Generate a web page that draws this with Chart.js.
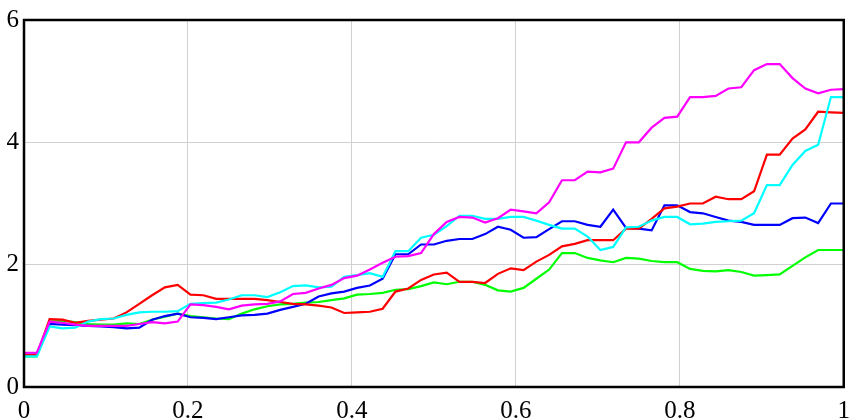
<!DOCTYPE html>
<html>
<head>
<meta charset="utf-8">
<script src="https://cdn.jsdelivr.net/npm/chart.js@4.4.1/dist/chart.umd.min.js"></script>
<style>
  html, body { margin: 0; padding: 0; background: #fff; }
  #wrap { width: 859px; height: 419px; }
  #probe { font-family: 'Liberation Serif'; position: absolute; left: -999px; }
</style>
</head>
<body>
<span id="probe">0.2</span>
<div id="wrap"><canvas id="walkChart" width="859" height="419"></canvas></div>
<script>
// 64 equal steps from 0 to 1
const steps = 64;

const redVals = [0.52, 0.52, 1.11, 1.10, 1.05, 1.08, 1.10, 1.12, 1.22, 1.36, 1.50, 1.63, 1.67, 1.51, 1.50, 1.44,
  1.44, 1.44, 1.44, 1.42, 1.39, 1.36, 1.35, 1.33, 1.30, 1.21, 1.22, 1.23, 1.28, 1.56, 1.61, 1.75,
  1.84, 1.87, 1.72, 1.72, 1.70, 1.85, 1.94, 1.91, 2.05, 2.16, 2.30, 2.34, 2.40, 2.40, 2.40, 2.59,
  2.59, 2.75, 2.92, 2.95, 3.00, 3.00, 3.11, 3.07, 3.07, 3.20, 3.80, 3.80, 4.06, 4.21, 4.50, 4.49, 4.48];

const greenVals = [0.50, 0.50, 1.07, 1.08, 1.06, 1.03, 1.02, 1.02, 1.04, 1.03, 1.10, 1.15, 1.20, 1.16, 1.14, 1.12,
  1.11, 1.20, 1.27, 1.32, 1.35, 1.36, 1.38, 1.39, 1.42, 1.45, 1.51, 1.52, 1.54, 1.59, 1.60, 1.65,
  1.71, 1.68, 1.72, 1.72, 1.67, 1.58, 1.56, 1.62, 1.77, 1.92, 2.19, 2.19, 2.11, 2.07, 2.04, 2.11,
  2.10, 2.06, 2.04, 2.04, 1.93, 1.90, 1.89, 1.91, 1.88, 1.82, 1.83, 1.84, 1.98, 2.12, 2.24, 2.24, 2.24];

const blueVals = [0.53, 0.53, 1.03, 1.02, 1.01, 1.00, 0.99, 0.98, 0.96, 0.97, 1.10, 1.16, 1.20, 1.14, 1.13, 1.11,
  1.14, 1.17, 1.18, 1.20, 1.26, 1.31, 1.36, 1.48, 1.53, 1.56, 1.62, 1.66, 1.77, 2.17, 2.17, 2.33,
  2.33, 2.39, 2.42, 2.42, 2.50, 2.62, 2.57, 2.44, 2.45, 2.58, 2.71, 2.71, 2.65, 2.62, 2.90, 2.60,
  2.59, 2.56, 2.97, 2.97, 2.86, 2.84, 2.78, 2.72, 2.70, 2.65, 2.65, 2.65, 2.76, 2.77, 2.68, 3.00, 3.00];

const cyanVals = [0.50, 0.50, 0.99, 0.96, 0.97, 1.07, 1.11, 1.12, 1.18, 1.22, 1.23, 1.23, 1.24, 1.36, 1.37, 1.38,
  1.43, 1.50, 1.50, 1.47, 1.55, 1.65, 1.66, 1.63, 1.64, 1.80, 1.83, 1.86, 1.80, 2.22, 2.22, 2.44,
  2.49, 2.63, 2.80, 2.80, 2.75, 2.75, 2.78, 2.78, 2.72, 2.65, 2.59, 2.59, 2.46, 2.24, 2.29, 2.61,
  2.62, 2.72, 2.78, 2.78, 2.66, 2.67, 2.70, 2.71, 2.72, 2.84, 3.30, 3.30, 3.63, 3.86, 3.96, 4.74, 4.74];

const magentaVals = [0.56, 0.56, 1.07, 1.05, 1.02, 1.00, 1.00, 1.00, 1.00, 1.03, 1.06, 1.04, 1.07, 1.35, 1.34, 1.31,
  1.27, 1.33, 1.35, 1.36, 1.40, 1.52, 1.54, 1.61, 1.67, 1.78, 1.82, 1.92, 2.03, 2.13, 2.14, 2.19,
  2.50, 2.70, 2.78, 2.77, 2.69, 2.76, 2.90, 2.87, 2.84, 3.02, 3.38, 3.38, 3.52, 3.51, 3.57, 4.00,
  4.00, 4.24, 4.40, 4.42, 4.74, 4.74, 4.76, 4.88, 4.90, 5.18, 5.28, 5.28, 5.05, 4.88, 4.80, 4.86, 4.87];

const xTicks = [0, 0.2, 0.4, 0.6, 0.8, 1];
const yTicks = [0, 2, 4, 6];

function toPoints(vals) {
  return vals.map((v, i) => ({ x: i / steps, y: v }));
}

// black frame round the plot area
const framePlugin = {
  id: 'frame',
  afterDraw(chart) {
    const a = chart.chartArea;
    const ctx = chart.ctx;
    ctx.save();
    ctx.strokeStyle = '#000';
    ctx.lineWidth = 2.5;
    ctx.strokeRect(a.left, a.top, a.right - a.left, a.bottom - a.top);
    ctx.restore();
  }
};

const tickFont = { family: "'Liberation Serif', 'Times New Roman', Times, serif", size: 25 };

function drawChart() {
  new Chart(document.getElementById('walkChart'), {
    type: 'line',
    data: {
      datasets: [
        { label: 'magenta', data: toPoints(magentaVals), borderColor: '#ff00ff' },
        { label: 'cyan', data: toPoints(cyanVals), borderColor: '#00ffff' },
        { label: 'red', data: toPoints(redVals), borderColor: '#ff0000' },
        { label: 'blue', data: toPoints(blueVals), borderColor: '#0000ff' },
        { label: 'green', data: toPoints(greenVals), borderColor: '#00ff00' }
      ].map(d => Object.assign(d, { borderWidth: 2.2, pointRadius: 0, tension: 0, fill: false }))
    },
    options: {
      responsive: false,
      animation: false,
      layout: { padding: { top: 12, right: 8, left: 0, bottom: 0 } },
      plugins: { legend: { display: false }, tooltip: { enabled: false } },
      scales: {
        x: {
          type: 'linear',
          min: 0,
          max: 1,
          afterFit: s => { s.height = 32; },
          afterBuildTicks: s => { s.ticks = xTicks.map(v => ({ value: v })); },
          grid: { color: '#d0d0d0', lineWidth: 1, drawTicks: false },
          border: { display: false },
          ticks: { font: tickFont, color: '#000', padding: 9, maxRotation: 0, autoSkip: false,
            callback: v => String(v) }
        },
        y: {
          min: 0,
          max: 6,
          afterFit: s => { s.width = 24; },
          afterBuildTicks: s => { s.ticks = yTicks.map(v => ({ value: v })); },
          grid: { color: '#d0d0d0', lineWidth: 1, drawTicks: false },
          border: { display: false },
          ticks: { font: tickFont, color: '#000', padding: 5, callback: v => String(v) }
        }
      }
    },
    plugins: [framePlugin]
  });
}

if (document.fonts && document.fonts.load) {
  document.fonts.load("25px 'Liberation Serif'").then(drawChart, drawChart);
} else {
  drawChart();
}
</script>
</body>
</html>
